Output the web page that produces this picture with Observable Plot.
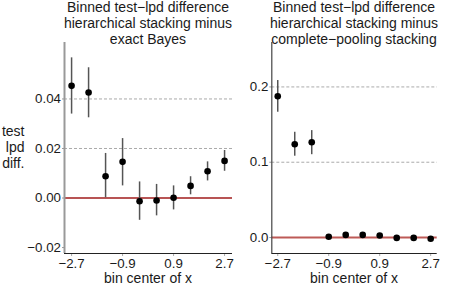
<!DOCTYPE html>
<html><head><meta charset="utf-8">
<script src="https://cdn.jsdelivr.net/npm/d3@7"></script>
<script src="https://cdn.jsdelivr.net/npm/@observablehq/plot@0.6"></script>
<style>
body{margin:0;background:#fff;font-family:"Liberation Sans",Arial,Helvetica,sans-serif;}
#wrap{position:relative;width:457px;height:293px;overflow:hidden;}
#wrap svg, #wrap svg g, #wrap svg text{font-size:13.3px !important;font-family:"Liberation Sans",Arial,Helvetica,sans-serif !important;}
.abs{position:absolute;white-space:nowrap;color:#1a1a1a;}
.title{font-size:14px;line-height:16px;text-align:center;}
</style></head><body>
<div id="wrap"></div>
<script>
const binCenters = [-2.7, -2.1, -1.5, -0.9, -0.3, 0.3, 0.9, 1.5, 2.1, 2.7];
const xTicks = [-2.7, -0.9, 0.9, 2.7];

// Left: hierarchical stacking minus exact Bayes
const leftMean  = [0.0453, 0.0426, 0.0088, 0.0146, -0.0013, -0.0010, 0.0001, 0.0049, 0.0108, 0.0150];
const leftLow   = [0.0339, 0.0324, 0.0001, 0.0049, -0.0090, -0.0072, -0.0048, 0.0013, 0.0069, 0.0108];
const leftHigh  = [0.0566, 0.0526, 0.0180, 0.0240, 0.0065, 0.0055, 0.0049, 0.0086, 0.0146, 0.0192];
const leftYTicks = [-0.02, 0.00, 0.02, 0.04];
const leftGrid = [0.02, 0.04];

// Right: hierarchical stacking minus complete-pooling stacking
const rightMean = [0.1877, 0.1239, 0.1266, 0.0010, 0.0035, 0.0035, 0.0027, -0.0005, -0.0005, -0.0017];
const rightLow  = [0.1664, 0.1080, 0.1100, -0.0012, 0.0013, 0.0013, 0.0005, -0.0027, -0.0027, -0.0039];
const rightHigh = [0.2085, 0.1398, 0.1420, 0.0032, 0.0057, 0.0057, 0.0049, 0.0017, 0.0017, 0.0005];
const rightYTicks = [0.0, 0.1, 0.2];
const rightGrid = [0.1, 0.2];

const leftTitle = ["Binned test\u2212lpd difference", "hierarchical stacking minus", "exact Bayes"];
const rightTitle = ["Binned test\u2212lpd difference", "hierarchical stacking minus", "complete\u2212pooling stacking"];
const yTitle = ["test", "lpd", "diff."];
const xTitle = "bin center of x";

const fmtMinus = (s) => s.replace("-", "\u2212");
const FONT = '"Liberation Sans",Arial,Helvetica,sans-serif';

function panel(o) {
  const rows = binCenters.map((x, i) => ({x, m: o.mean[i], lo: o.low[i], hi: o.high[i]}));
  return Plot.plot({
    width: o.width, height: 293,
    marginTop: 42, marginBottom: 40, marginLeft: o.ml, marginRight: o.mr,
    style: {fontFamily: FONT, fontSize: "13.3px", color: "#1a1a1a", background: "transparent"},
    x: {domain: o.xdom},
    y: {domain: o.ydom},
    marks: [
      Plot.ruleY(o.grid, {stroke: "#aaa", strokeDasharray: "3,2", strokeWidth: 1}),
      Plot.ruleY([0], {stroke: o.zeroColor, strokeWidth: o.zeroWidth}),
      Plot.axisX({ticks: xTicks, tickFormat: d => fmtMinus(d.toFixed(1)), tickSize: 3, tickPadding: 2, label: null,
        stroke: "#aaa", fill: "#1a1a1a"}),
      Plot.axisY({ticks: o.yticks, tickFormat: d => fmtMinus(d.toFixed(o.dec)), tickSize: 2, tickPadding: 1.5, label: null,
        stroke: "#999", fill: "#1a1a1a"}),
      Plot.ruleY([o.ydom[0]], {x1: o.xdom[0], x2: o.xdom[1], stroke: "#222", strokeWidth: 1.2}),
      Plot.ruleX([o.xdom[0]], {y1: o.ydom[0], y2: o.ydom[1], stroke: o.axisColor, strokeWidth: o.axisWidth}),
      Plot.ruleX(rows, {x: "x", y1: "lo", y2: "hi", stroke: "#555", strokeWidth: 1.5}),
      Plot.dot(rows, {x: "x", y: "m", r: 3.3, fill: "#000", stroke: "none"})
    ]
  });
}

const wrap = document.getElementById("wrap");
function place(el, left, top) { el.style.position = "absolute"; el.style.left = left + "px"; el.style.top = top + "px"; wrap.appendChild(el); }

const left = panel({mean: leftMean, low: leftLow, high: leftHigh, yticks: leftYTicks, grid: leftGrid, dec: 2,
  width: 235, ml: 64, mr: 3, xdom: [-2.95, 2.98], ydom: [-0.0224, 0.0628],
  zeroColor: "#a11b1b", zeroWidth: 1.5, axisColor: "#999", axisWidth: 2});
place(left, 0, 0);

const right = panel({mean: rightMean, low: rightLow, high: rightHigh, yticks: rightYTicks, grid: rightGrid, dec: 1,
  width: 222, ml: 36.3, mr: 20.3, xdom: [-2.91, 2.93], ydom: [-0.0212, 0.259],
  zeroColor: "#bd5a57", zeroWidth: 2, axisColor: "#444", axisWidth: 1.2});
place(right, 235, 0);

function addText(lines, cls, cx, top, align, extra) {
  const d = document.createElement("div");
  d.className = "abs " + cls;
  d.innerHTML = lines.join("<br>");
  if (extra) Object.assign(d.style, extra);
  wrap.appendChild(d);
  const w = d.getBoundingClientRect().width;
  d.style.top = top + "px";
  d.style.left = (align === "center" ? cx - w / 2 : cx - w) + "px";
}
addText(leftTitle, "title", 148, -1, "center");
addText(rightTitle, "title", 354, -1, "center");
addText(yTitle, "title", 24.5, 123, "right", {textAlign: "right"});
addText([xTitle], "title", 148, 270, "center");
addText([xTitle], "title", 354, 270, "center");
</script>
</body></html>
